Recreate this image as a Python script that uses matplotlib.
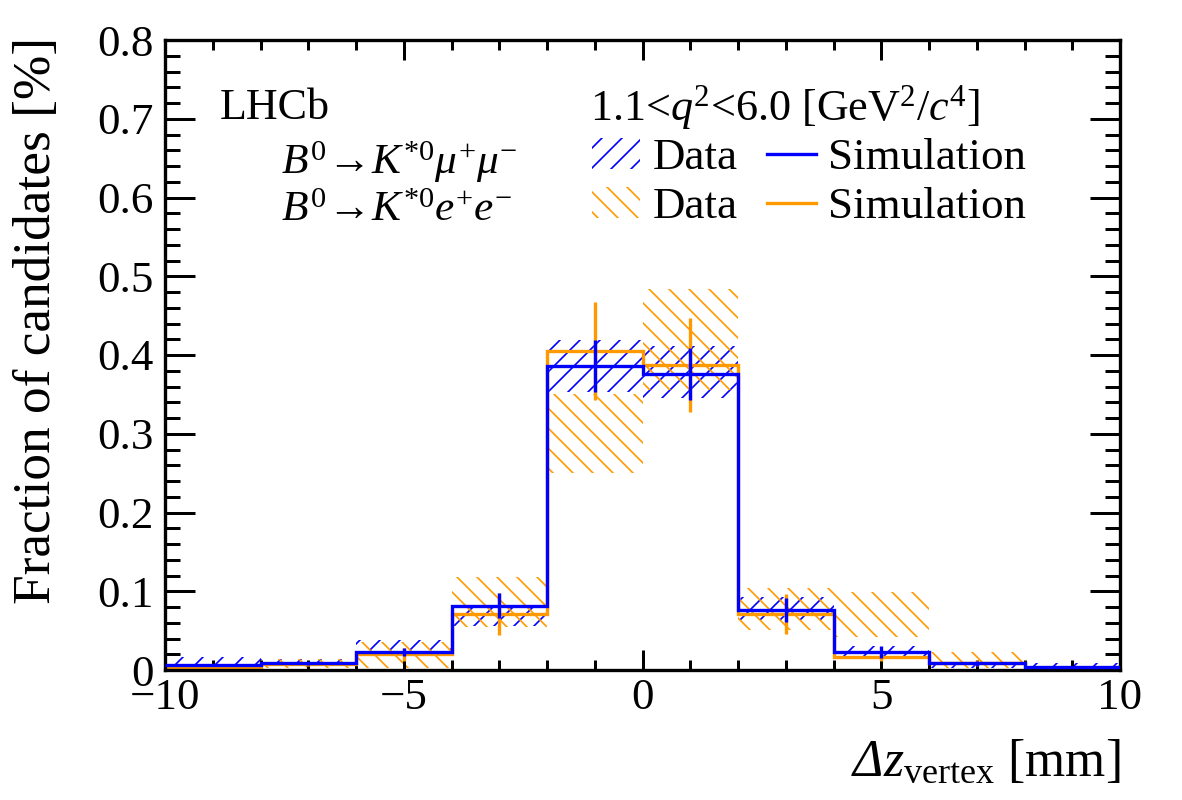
import numpy as np
import matplotlib
matplotlib.use('Agg')
import matplotlib.pyplot as plt
from matplotlib.patches import Patch
from matplotlib.lines import Line2D
from matplotlib.ticker import MultipleLocator

plt.rcParams['font.family'] = ['Liberation Serif', 'DejaVu Serif']
plt.rcParams['mathtext.fontset'] = 'custom'
plt.rcParams['mathtext.rm'] = 'Liberation Serif'
plt.rcParams['mathtext.it'] = 'Liberation Serif:italic'
plt.rcParams['mathtext.bf'] = 'Liberation Serif:bold'
plt.rcParams['mathtext.sf'] = 'Liberation Serif:italic'
plt.rcParams['mathtext.fallback'] = 'stix'
plt.rcParams['hatch.linewidth'] = 1.0

# ---------------- data ----------------
bin_edges = [-10, -8, -6, -4, -2, 0, 2, 4, 6, 8, 10]

# muon mode (blue)
mu_data = [0.011, 0.0095, 0.0315, 0.069, 0.386, 0.378, 0.078, 0.0235, 0.006, 0.006]
mu_data_err = [0.006, 0.0045, 0.0065, 0.013, 0.033, 0.033, 0.015, 0.0065, 0.003, 0.003]
mu_sim = [0.0063, 0.0085, 0.0233, 0.0817, 0.386, 0.376, 0.076, 0.0233, 0.0085, 0.004]
mu_sim_err = [0.0015, 0.002, 0.005, 0.0155, 0.033, 0.033, 0.0155, 0.0075, 0.003, 0.0015]

# electron mode (orange)
ee_data = [0.001, 0.0085, 0.019, 0.0865, 0.300, 0.420, 0.0775, 0.0705, 0.0125, 0.001]
ee_data_err = [0.001, 0.006, 0.016, 0.0315, 0.050, 0.064, 0.0265, 0.0285, 0.0105, 0.001]
ee_sim = [0.0025, 0.0075, 0.020, 0.071, 0.405, 0.387, 0.0707, 0.017, 0.009, 0.003]
ee_sim_err = [0.001, 0.003, 0.008, 0.027, 0.062, 0.060, 0.0255, 0.006, 0.004, 0.002]

x_ticks = [-10, -5, 0, 5, 10]
y_ticks = [0, 0.1, 0.2, 0.3, 0.4, 0.5, 0.6, 0.7, 0.8]

BLUE = '#0000FF'
ORANGE = '#FF9900'
HATCH_MU = '//'
HATCH_EE = '\\\\'

W, H, DPI = 1182, 800, 120
fig = plt.figure(figsize=(W / DPI, H / DPI), dpi=DPI)
ax = fig.add_axes([165 / W, 130 / H, 955 / W, 630 / H])

edges = np.array(bin_edges, dtype=float)
centers = 0.5 * (edges[:-1] + edges[1:])
widths = np.diff(edges)

def hatched(vals, errs, color, hatch, z):
    vals = np.array(vals); errs = np.array(errs)
    ax.bar(centers, 2 * errs, bottom=vals - errs, width=widths, fill=False,
           hatch=hatch, edgecolor=color, linewidth=0, zorder=z)

hatched(mu_data, mu_data_err, BLUE, HATCH_MU, 1)
hatched(ee_data, ee_data_err, ORANGE, HATCH_EE, 1.1)

LW = 2.0
ee_s = np.array(ee_sim); ee_se = np.array(ee_sim_err)
ax.stairs(ee_s, edges, baseline=None, color=ORANGE, lw=LW, zorder=2)
ax.vlines(centers, ee_s - ee_se, ee_s + ee_se, color=ORANGE, lw=LW, zorder=2)
mu_s = np.array(mu_sim); mu_se = np.array(mu_sim_err)
ax.stairs(mu_s, edges, baseline=None, color=BLUE, lw=LW, zorder=3)
ax.vlines(centers, mu_s - mu_se, mu_s + mu_se, color=BLUE, lw=LW, zorder=3)

ax.set_xlim(-10, 10)
ax.set_ylim(0, 0.8)
ax.set_xticks(x_ticks)
ax.set_yticks(y_ticks)
ax.set_yticklabels([('%g' % v) for v in y_ticks])
ax.xaxis.set_minor_locator(MultipleLocator(1))
ax.yaxis.set_minor_locator(MultipleLocator(0.02))
ax.tick_params(axis='both', which='both', direction='in', top=True, right=True,
               width=1.8, labelsize=27)
ax.tick_params(axis='x', which='major', length=12, pad=5)
ax.tick_params(axis='x', which='minor', length=6)
ax.tick_params(axis='y', which='major', length=18, pad=7)
ax.tick_params(axis='y', which='minor', length=9)
for s in ax.spines.values():
    s.set_linewidth(2.0)

ax.set_ylabel('Fraction of candidates [%]', fontsize=32, va='center')
ax.yaxis.set_label_coords((37 - 165) / 955, (670 - 320) / 630)
ax.set_xlabel(r'$\mathsf{\Delta}z_{\mathrm{vertex}}$ [mm]', fontsize=31,
              ha='right', va='baseline')
ax.xaxis.set_label_coords(1.0, -(776 - 670) / 630)

def ftext(x, y, s, **kw):
    fig.text(x / W, 1 - y / H, s, **kw)

ftext(220, 119, 'LHCb', fontsize=26.5)
ftext(281, 174, r'$B^0\!\rightarrow\! K^{*0}\mu^{+}\mu^{-}$', fontsize=26)
ftext(281, 221, r'$B^0\!\rightarrow\! K^{*0}e^{+}e^{-}$', fontsize=26)
ftext(590, 120, r'1.1<$q^2$<6.0 [GeV$^2$/$c^4$]', fontsize=26.5)

handles = [
    Patch(facecolor='none', edgecolor=BLUE, hatch=HATCH_MU, linewidth=0),
    Patch(facecolor='none', edgecolor=ORANGE, hatch=HATCH_EE, linewidth=0),
    Line2D([], [], color=BLUE, lw=LW),
    Line2D([], [], color=ORANGE, lw=LW),
]
labels = ['Data', 'Data', 'Simulation', 'Simulation']
leg = ax.legend(handles, labels, ncol=2, frameon=False, fontsize=27,
                loc='upper left', borderaxespad=0.0,
                bbox_to_anchor=((592 - 165) / 955, (670 - 138) / 630),
                handlelength=1.07, handleheight=0.67, handletextpad=0.27,
                columnspacing=0.67, labelspacing=0.2, borderpad=0.0)

fig.savefig('out.png', dpi=DPI)
